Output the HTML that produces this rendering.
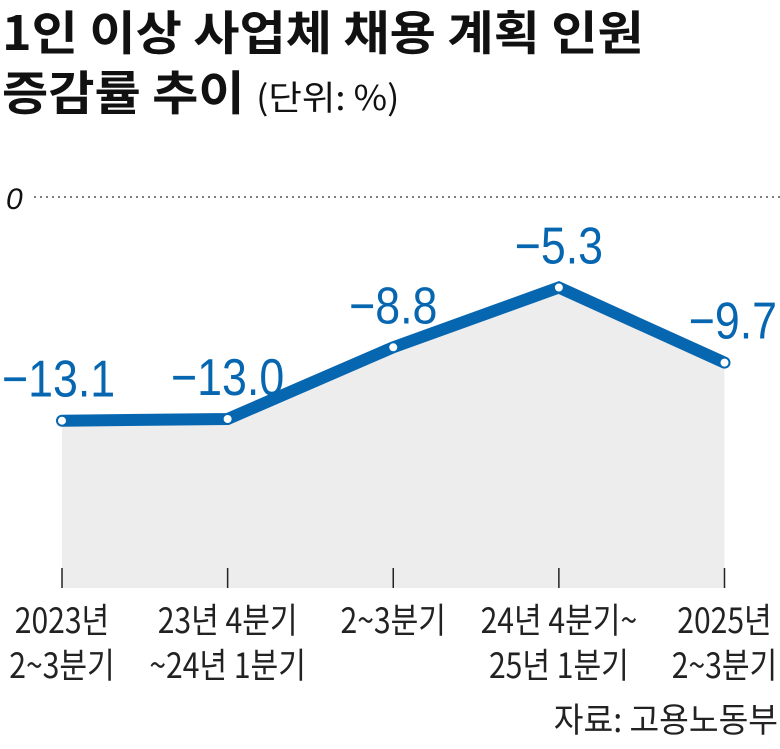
<!DOCTYPE html>
<html><head><meta charset="utf-8"><style>
html,body{margin:0;padding:0;background:#fff;}
svg{display:block;font-family:"Liberation Sans","Noto Sans CJK KR",sans-serif;}
</style></head><body>
<svg id="chart" width="780" height="749" viewBox="0 0 780 749" xmlns="http://www.w3.org/2000/svg">
<g>
<text transform="translate(2,50) scale(1.07,1)" font-size="47" font-weight="bold" fill="#111" font-family="'Noto Sans CJK KR',sans-serif">1인 이상 사업체 채용 계획 인원</text>
<text transform="translate(2,110) scale(1.07,1)" font-size="47" font-weight="bold" fill="#111" font-family="'Noto Sans CJK KR',sans-serif">증감률 추이 <tspan font-size="34" font-weight="normal">(단위: %)</tspan></text>
</g>
<text x="6" y="209" font-size="30" font-style="italic" fill="#111">0</text>
<line x1="34" y1="197" x2="780" y2="197" stroke="#555" stroke-width="1.5" stroke-dasharray="2,4"/>
<g id="plot"></g>
<text transform="translate(778,732) scale(0.95,1)" text-anchor="end" font-size="34" fill="#222" font-family="'Noto Sans CJK KR',sans-serif">자료: 고용노동부</text>
</svg>
<script>
const categories1 = ["2023년","23년 4분기","2~3분기","24년 4분기~","2025년"];
const categories2 = ["2~3분기","~24년 1분기","","25년 1분기","2~3분기"];
const values = [-13.1,-13.0,-8.8,-5.3,-9.7];
const valueLabels = ["−13.1","−13.0","−8.8","−5.3","−9.7"];

const NS="http://www.w3.org/2000/svg";
const plot=document.getElementById('plot');
function xScale(i){return 62+i*(724.5-62)/(values.length-1);}
function yScale(v){return 197+(-v)*(420.7-197)/13.1;}
const baseY=588;
function mk(tag,attrs){const e=document.createElementNS(NS,tag);for(const k in attrs)e.setAttribute(k,attrs[k]);plot.appendChild(e);return e;}

let d='M'+xScale(0)+','+baseY;
values.forEach((v,i)=>{d+=' L'+xScale(i)+','+yScale(v);});
d+=' L'+xScale(values.length-1)+','+baseY+' Z';
const area=mk('path',{d:d,fill:'#ededee'});



values.forEach((v,i)=>{
  const t=mk('line',{x1:xScale(i),x2:xScale(i),y1:568,y2:baseY,stroke:'#222','stroke-width':1.5});
  
  
});

let ld='';
values.forEach((v,i)=>{ld+=(i?' L':'M')+xScale(i)+','+yScale(v);});
const line=mk('path',{d:ld,fill:'none',stroke:'#0766b0','stroke-width':12,'stroke-linejoin':'miter','stroke-linecap':'round'});



values.forEach((v,i)=>{
  const c=mk('circle',{cx:xScale(i),cy:yScale(v),r:4.5,fill:'#fff',stroke:'#0766b0','stroke-width':1});
  
  
  let lx=xScale(i), anchor='middle';
  if(i===0){lx=2;anchor='start';}
  if(i===values.length-1){lx=777;anchor='end';}
  const tx=mk('text',{transform:'translate('+lx+','+(yScale(v)-24)+') scale(0.86,1)','text-anchor':anchor,'font-size':52,fill:'#0766b0'});
  tx.textContent=valueLabels[i];
  
  
  [categories1[i],categories2[i]].forEach((s,j)=>{
    if(!s)return;
    const xl=mk('text',{transform:'translate('+xScale(i)+','+(633+j*45)+') scale(0.86,1)','text-anchor':'middle','font-size':35,fill:'#222','font-family':"'Noto Sans CJK KR',sans-serif"});
    xl.textContent=s;
    
    
  });
});
</script>
</body></html>
